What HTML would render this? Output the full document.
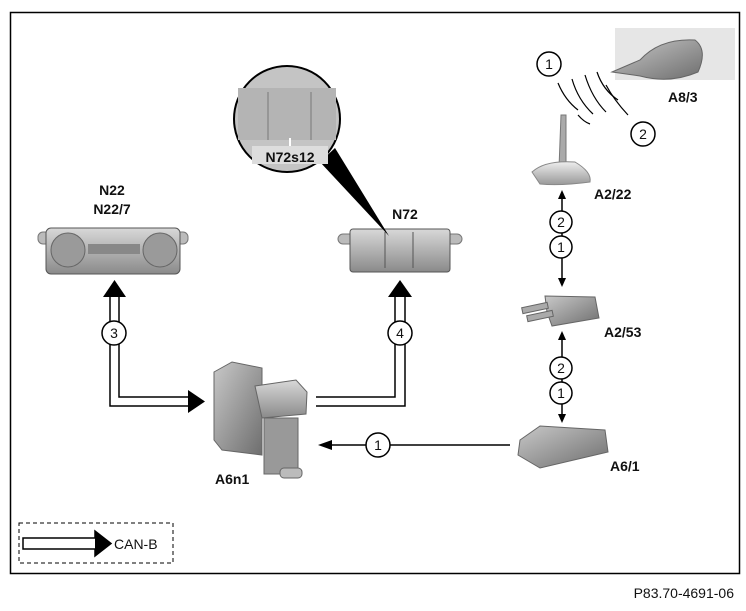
<!DOCTYPE html>
<html><head><meta charset="utf-8"><style>
html,body{margin:0;padding:0;background:#fff;}
svg{display:block;font-family:"Liberation Sans",Arial,sans-serif;}
.lb{font-weight:bold;font-size:14px;fill:#111;}
.cn{font-size:14px;fill:#111;}
</style></head><body>
<svg width="746" height="611" viewBox="0 0 746 611" xmlns="http://www.w3.org/2000/svg">
<defs>
<linearGradient id="g1" x1="0" y1="0" x2="0" y2="1"><stop offset="0" stop-color="#d8d8d8"/><stop offset="1" stop-color="#8a8a8a"/></linearGradient>
<linearGradient id="g2" x1="0" y1="0" x2="1" y2="1"><stop offset="0" stop-color="#c8c8c8"/><stop offset="1" stop-color="#6e6e6e"/></linearGradient>
<linearGradient id="g3" x1="0" y1="0" x2="0" y2="1"><stop offset="0" stop-color="#eee"/><stop offset="1" stop-color="#999"/></linearGradient>
</defs>
<rect x="10.5" y="12.5" width="729" height="561" fill="none" stroke="#000" stroke-width="1.5"/>
<text x="734" y="598" text-anchor="end" class="cn" font-size="13">P83.70-4691-06</text>

<!-- legend -->
<rect x="19" y="523" width="154" height="40" fill="none" stroke="#000" stroke-dasharray="4,3"/>
<polygon points="23,538 95,538 95,531 111,543.5 95,556 95,549 23,549" fill="#fff" stroke="#000" stroke-width="1.5"/>
<polygon points="95,531 111,543.5 95,556" fill="#000"/>
<text x="114" y="549" class="cn" font-size="15">CAN-B</text>

<!-- N22 -->
<text x="112" y="195" text-anchor="middle" class="lb">N22</text>
<text x="112" y="214" text-anchor="middle" class="lb">N22/7</text>
<rect x="38" y="232" width="150" height="12" rx="5" fill="#bbb" stroke="#777"/>
<rect x="46" y="228" width="134" height="46" rx="5" fill="url(#g1)" stroke="#555"/>
<circle cx="68" cy="250" r="17" fill="#9a9a9a" stroke="#666"/>
<circle cx="160" cy="250" r="17" fill="#9a9a9a" stroke="#666"/>
<rect x="88" y="244" width="52" height="10" fill="#888"/>
<!-- N72 -->
<text x="405" y="219" text-anchor="middle" class="lb">N72</text>
<rect x="338" y="234" width="124" height="10" rx="5" fill="#bbb" stroke="#777"/>
<rect x="350" y="229" width="100" height="43" rx="3" fill="url(#g1)" stroke="#555"/>
<line x1="385" y1="232" x2="385" y2="268" stroke="#555"/><line x1="413" y1="232" x2="413" y2="268" stroke="#555"/>
<!-- magnifier -->
<polygon points="320,162 335,148 389,236" fill="#000"/>
<circle cx="287" cy="119" r="53" fill="#c4c4c4" stroke="#000" stroke-width="2"/>
<rect x="238" y="88" width="98" height="52" fill="#b4b4b4"/>
<line x1="268" y1="92" x2="268" y2="140" stroke="#777"/><line x1="311" y1="92" x2="311" y2="140" stroke="#777"/>
<line x1="290" y1="138" x2="290" y2="148" stroke="#fff" stroke-width="2"/>
<rect x="252" y="146" width="76" height="18" fill="#ddd"/>
<text x="290" y="162" text-anchor="middle" class="lb" font-size="15">N72s12</text>

<!-- CAN arrows -->
<g fill="none" stroke="#000" stroke-width="1.5">
<polyline points="110,297 110,406 190,406"/><polyline points="119,297 119,397 190,397"/>
<line x1="190" y1="397" x2="190" y2="406" stroke="#fff"/>
<polyline points="316,397 395,397 395,297"/><polyline points="316,406 405,406 405,297"/>
</g>
<polygon points="103,297 114.5,280 126,297" fill="#000"/>
<polygon points="388,297 400,280 412,297" fill="#000"/>
<polygon points="188,390 205,401.5 188,413" fill="#000"/>
<circle cx="114" cy="333" r="12" fill="#fff" stroke="#000" stroke-width="1.5"/><text x="114" y="338" text-anchor="middle" class="cn">3</text>
<circle cx="400" cy="333" r="12" fill="#fff" stroke="#000" stroke-width="1.5"/><text x="400" y="338" text-anchor="middle" class="cn">4</text>

<!-- A6n1 -->
<polygon points="214,372 232,362 262,368 262,455 222,450 214,440" fill="url(#g2)" stroke="#666"/>
<polygon points="255,386 296,380 307,392 306,414 262,418" fill="url(#g1)" stroke="#666"/>
<rect x="264" y="418" width="34" height="56" fill="#999" stroke="#666"/>
<rect x="280" y="468" width="22" height="10" rx="4" fill="#bbb" stroke="#666"/>
<text x="215" y="484" class="lb" font-size="15">A6n1</text>

<!-- line 1 -->
<line x1="328" y1="445" x2="510" y2="445" stroke="#000" stroke-width="1.5"/>
<polygon points="318,445 332,440 332,450" fill="#000"/>
<circle cx="378" cy="445" r="12" fill="#fff" stroke="#000" stroke-width="1.5"/><text x="378" y="450" text-anchor="middle" class="cn">1</text>

<!-- A6/1 -->
<polygon points="520,440 540,426 605,430 608,452 540,468 518,455" fill="url(#g2)" stroke="#666"/>
<text x="610" y="471" class="lb">A6/1</text>

<!-- right column -->
<line x1="562" y1="196" x2="562" y2="282" stroke="#000" stroke-width="1.5"/>
<polygon points="558,199 562,190 566,199" fill="#000"/><polygon points="558,278 562,287 566,278" fill="#000"/>
<circle cx="561" cy="222" r="11" fill="#fff" stroke="#000" stroke-width="1.5"/><text x="561" y="227" text-anchor="middle" class="cn">2</text>
<circle cx="561" cy="247" r="11" fill="#fff" stroke="#000" stroke-width="1.5"/><text x="561" y="252" text-anchor="middle" class="cn">1</text>
<line x1="562" y1="336" x2="562" y2="418" stroke="#000" stroke-width="1.5"/>
<polygon points="558,340 562,331 566,340" fill="#000"/><polygon points="558,414 562,423 566,414" fill="#000"/>
<circle cx="561" cy="368" r="11" fill="#fff" stroke="#000" stroke-width="1.5"/><text x="561" y="373" text-anchor="middle" class="cn">2</text>
<circle cx="561" cy="393" r="11" fill="#fff" stroke="#000" stroke-width="1.5"/><text x="561" y="398" text-anchor="middle" class="cn">1</text>

<!-- A2/22 antenna -->
<polygon points="561,115 566,115 566,168 559,168" fill="#aaa" stroke="#777"/>
<path d="M532,172 Q545,160 575,162 Q592,172 590,182 Q560,186 540,184 Z" fill="url(#g3)" stroke="#888"/>
<text x="594" y="199" class="lb">A2/22</text>
<!-- A2/53 -->
<polygon points="545,296 595,297 599,318 552,326 547,312" fill="url(#g2)" stroke="#666"/>
<rect x="522" y="305" width="26" height="6" fill="#aaa" stroke="#666" transform="rotate(-12 535 308)"/>
<rect x="527" y="313" width="26" height="6" fill="#aaa" stroke="#666" transform="rotate(-12 540 316)"/>
<text x="604" y="337" class="lb">A2/53</text>

<!-- radio -->
<g fill="none" stroke="#000" stroke-width="1.2">
<path d="M558,83 Q565,100 578,110"/><path d="M572,79 Q578,100 593,114"/><path d="M585,75 Q592,98 606,112"/><path d="M597,72 Q603,90 618,100"/>
<path d="M606,85 Q614,100 628,115"/><path d="M578,115 Q584,122 590,124"/>
</g>
<circle cx="549" cy="64" r="12" fill="#fff" stroke="#000" stroke-width="1.5"/><text x="549" y="69" text-anchor="middle" class="cn">1</text>
<circle cx="643" cy="134" r="12" fill="#fff" stroke="#000" stroke-width="1.5"/><text x="643" y="139" text-anchor="middle" class="cn">2</text>
<!-- A8/3 key -->
<rect x="615" y="28" width="120" height="52" fill="#e6e6e6"/>
<path d="M612,72 L640,60 Q660,38 695,40 Q708,50 698,72 Q670,84 640,76 Z" fill="url(#g2)" stroke="#666"/>
<text x="668" y="102" class="lb">A8/3</text>
</svg>
</body></html>
